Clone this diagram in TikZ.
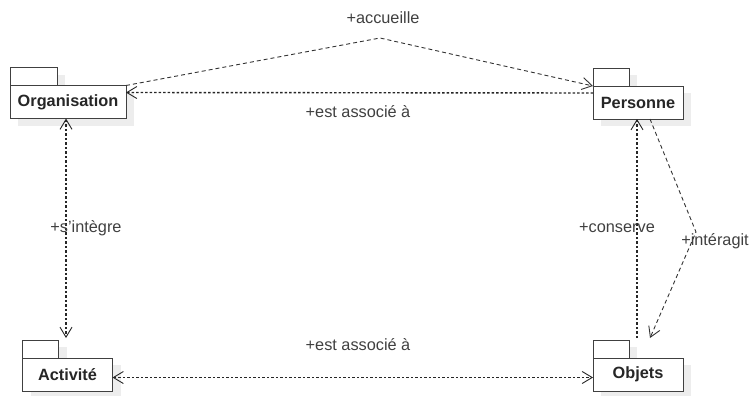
\documentclass[tikz,border=0pt]{standalone}
\usepackage{fontspec}
\setmainfont{Liberation Sans}
\usetikzlibrary{arrows.meta,shadows}

\tikzset{
    pkg/.style={draw=black!75, fill=white, line width=0.9pt, inner sep=0pt, outer sep=0pt,
        minimum height=33pt, text=black!85, font=\fontsize{16.3}{19}\selectfont\bfseries,
        drop shadow={shadow xshift=8pt, shadow yshift=-7pt, fill=black!7, opacity=1}},
    pkgtab/.style={draw=black!75, fill=white, line width=0.9pt,
        drop shadow={shadow xshift=8pt, shadow yshift=-7pt, fill=black!7, opacity=1}},
    lbl/.style={text=black!75, inner sep=1pt, font=\fontsize{16.3}{19}\selectfont},
    dotline/.style={draw=black!85, line width=1.4pt, dash pattern=on 2.5pt off 2pt},
    dashline/.style={draw=black!80, line width=0.9pt, dash pattern=on 4pt off 3pt},
    navarrow/.style={-{Straight Barb[length=10pt,width=12pt,line width=0.9pt]}},
    navboth/.style={{Straight Barb[length=10pt,width=12pt,line width=0.9pt]}-{Straight Barb[length=10pt,width=12pt,line width=0.9pt]}}
}

\begin{document}
\begin{tikzpicture}[x=1pt, y=-1pt]
    \useasboundingbox (0,0) rectangle (752,396);

    % Packages (tab first, then body)
    \foreach \n/\x/\y/\w/\t/\lab in {
        org/68/102/116/47/Organisation,
        pers/638/102.5/90/36/Personne,
        act/67.5/374.5/90/36/Activité,
        obj/638/374.5/90/36/Objets
    }{
        \draw[pkgtab] ({\x-\w/2},{\y-16.5}) rectangle ++(\t,-18);
        \node[pkg, minimum width=\w] (\n) at (\x,\y) {\lab};
    }

    % Bend points
    \coordinate (apex) at (380,38);
    \coordinate (bend) at (696,232);
    \coordinate (actTop) at (66,338);
    \coordinate (objTop) at (637,338);
    \coordinate (objTab) at (650,338);

    % Connectors
    \draw[dashline, navarrow] (org.north east) -- (apex) -- (pers.north west);
    \draw[dotline, navarrow] ([yshift=-7pt]pers.north west) -- ([yshift=-7pt]org.north east);
    \draw[dotline, navboth] (org.south -| actTop) -- (actTop);
    \draw[dotline, navboth] ([yshift=-3pt]act.east) -- ([yshift=-3pt]obj.west);
    \draw[dotline, navarrow] (objTop) -- (pers.south -| objTop);
    \draw[dashline, navarrow] (pers.south -| objTab) -- (bend) -- (objTab);

    % Labels
    \node[lbl] (lAccueille) at (383,18) {+accueille};
    \node[lbl] (lAssocTop) at (358,112) {+est associé à};
    \node[lbl] (lIntegre) at (86,228) {+s'intègre};
    \node[lbl] (lAssocBot) at (358,345) {+est associé à};
    \node[lbl] (lConserve) at (617,228) {+conserve};
    \node[lbl] (lInteragit) at (715,241) {+intéragit};
\end{tikzpicture}
\end{document}
